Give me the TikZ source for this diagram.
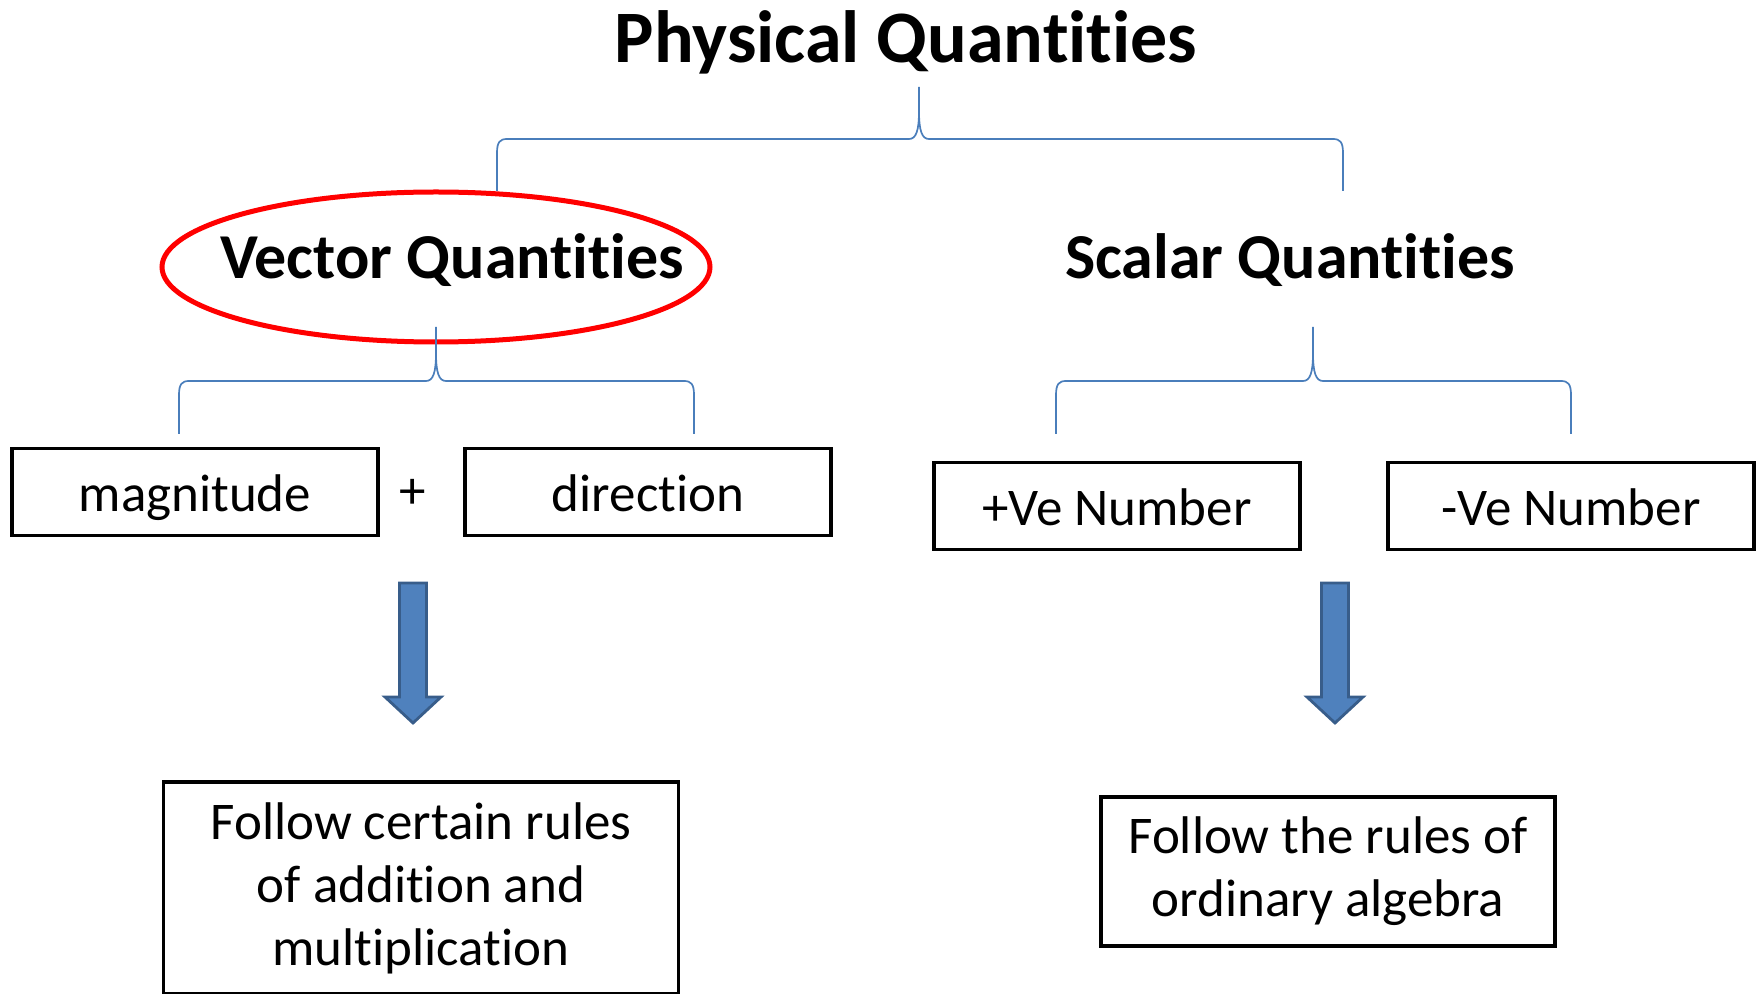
\documentclass[tikz,border=0pt]{standalone}
\usepackage{fontspec}
\setmainfont{Carlito}[Ligatures=NoCommon]
\usetikzlibrary{positioning, calc}
\definecolor{braceblue}{HTML}{4A7EBB}
\definecolor{arrowfill}{HTML}{4F81BD}
\definecolor{arrowedge}{HTML}{385D8A}
\definecolor{ringred}{HTML}{FF0000}

\tikzset{
  headtxt/.style={font=\fontsize{37}{44}\selectfont\bfseries},
  subtxt/.style={font=\fontsize{32}{38}\selectfont\bfseries},
  termbox/.style={draw, line width=1.7pt, minimum width=183pt, minimum height=43.5pt, inner sep=0pt,
    text height=19.5pt, text depth=0pt, font=\fontsize{26.5}{30}\selectfont},
  rulebox/.style={draw, line width=1.7pt, align=center, inner sep=0pt, font=\fontsize{26.5}{31.5}\selectfont},
  braceline/.style={draw=braceblue, line width=0.85pt},
  blockarrow/.style={fill=arrowfill, draw=arrowedge, line width=1.4pt},
}

% curly brace: left x, right x, tip x, level y, foot y, tip y
\newcommand{\qbrace}[6]{%
  \draw[braceline] (#1,#5) -- (#1,{#4+14}) .. controls (#1,{#4+3}) and ({#1+3},#4) .. ({#1+10},#4)
    -- ({#3-10},#4) .. controls ({#3-3},#4) and (#3,{#4-8}) .. (#3,{#4-28}) -- (#3,#6);
  \draw[braceline] (#2,#5) -- (#2,{#4+14}) .. controls (#2,{#4+3}) and ({#2-3},#4) .. ({#2-10},#4)
    -- ({#3+10},#4) .. controls ({#3+3},#4) and (#3,{#4-8}) .. (#3,{#4-28});
}

\begin{document}
\begin{tikzpicture}[x=0.5pt, y=-0.5pt]
  \useasboundingbox (0,0) rectangle (1758,994);

  % Headings
  \node[headtxt] (phys) at (906,42) {Physical Quantities};
  \node[subtxt] (vec) at (452,260) {Vector Quantities};
  \node[subtxt] (sca) at (1290,260) {Scalar Quantities};
  \draw[ringred, line width=2.5pt] (436,267) ellipse [x radius=274, y radius=75];

  % Braces
  \qbrace{497}{1343}{919}{139}{191}{87}
  \qbrace{179}{694}{436}{381}{434}{327}
  \qbrace{1056}{1571}{1313}{381}{434}{327}

  % Terms
  \foreach \x/\y/\nm/\lab in {195/492/mag/magnitude, 648/492/dir/direction,
                             1117/506/pos/+Ve Number, 1571/506/neg/-Ve Number} {
    \node[termbox] (\nm) at (\x,\y) {\lab};
  }
  \node[font=\fontsize{26.5}{30}\selectfont] (plus) at (413,494) {+};

  % Block arrows
  \foreach \xc in {413,1335} {
    \draw[blockarrow] (\xc-13.5,583) -- (\xc+13.5,583) -- (\xc+13.5,697) -- (\xc+28,697)
      -- (\xc,723) -- (\xc-28,697) -- (\xc-13.5,697) -- cycle;
  }

  % Rules
  \node[rulebox, minimum width=257.5pt, minimum height=106pt] (vrule) at (421,888)
    {Follow certain rules\\of addition and\\multiplication};
  \node[rulebox, minimum width=227pt, minimum height=74.5pt] (srule) at (1328,871.5)
    {Follow the rules of\\ordinary algebra};
\end{tikzpicture}
\end{document}
